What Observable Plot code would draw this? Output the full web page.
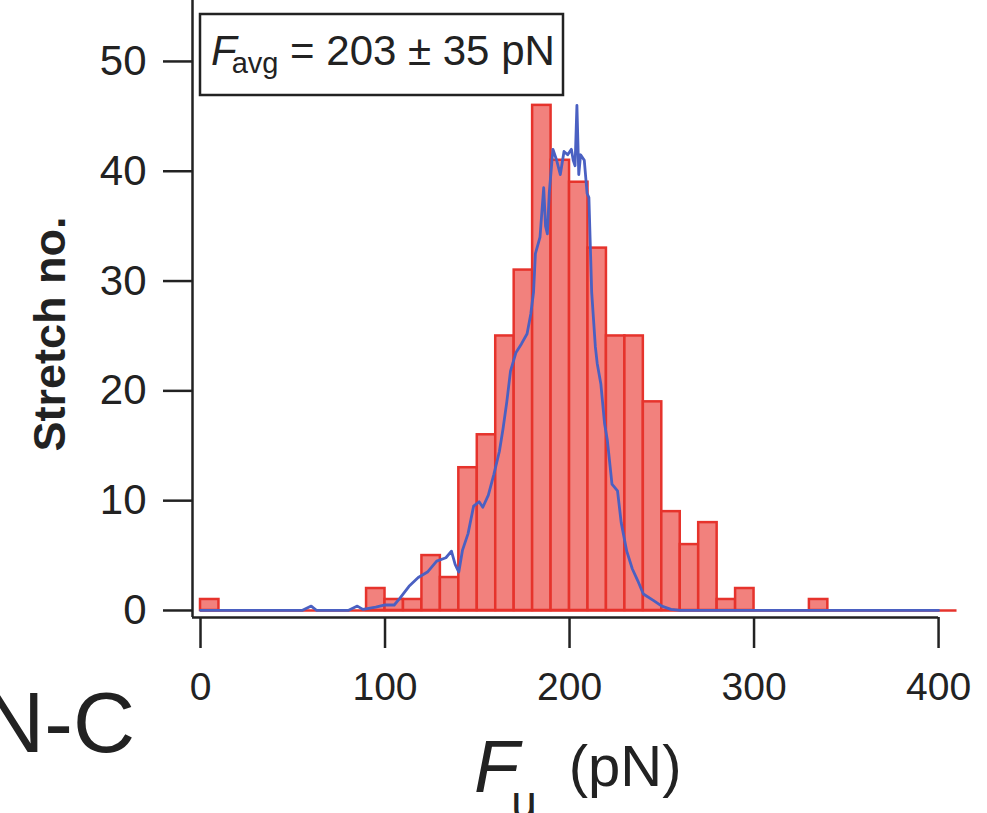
<!DOCTYPE html>
<html>
<head>
<meta charset="utf-8">
<script src="https://cdn.jsdelivr.net/npm/d3@7"></script>
<script src="https://cdn.jsdelivr.net/npm/@observablehq/plot@0.6"></script>
<style>
  html, body { margin: 0; padding: 0; background: #fff; }
  #chart svg { display: block; }
</style>
</head>
<body>
<div id="chart"></div>
<script>
// ---- data ----
const binWidth = 10;
const binStarts = [0,10,20,30,40,50,60,70,80,90,100,110,120,130,140,150,160,170,180,190,200,210,220,230,240,250,260,270,280,290,300,310,320,330,340,350,360,370,380,390,400];
const counts    = [1,0,0,0,0,0,0,0,0,2,1,1,5,3,13,16,25,31,46,41,39,33,25,25,19,9,6,8,1,2,0,0,0,1,0,0,0,0,0,0,0];

// blue trace
const curveF = [0,55,60,63,80,85,88,95,100,105,108,113,118,123,128,133,136,138,140,142,145,148,151,153,156,159,162,164,166,168,171,174,177,179,180.5,181.5,184,186,187,188,189,191,193,195,197,199,201,202,203,204,205,206,208,209.5,210.5,212,214,215,217,219,220.5,223,226,228,231,234,237,240,245.6,250,255,260,400];
const curveN = [0,0,0.4,0,0,0.4,0.1,0.3,0.5,0.5,1.1,2.2,3,3.5,4.5,4.8,5.4,4.2,3.5,5.5,7,9.5,9.9,9.4,10.5,12.4,14.5,16.6,19,21.8,23.5,24.3,25.2,27,29,32.5,34,38.5,35,34.3,38,42,41,39.7,41.8,41.5,42,41,40.5,46,39.7,41.5,41,38,37.6,29,24,22.5,20.6,17,15.5,11.5,10.9,8,5.4,3.8,2.7,1.5,0.9,0.4,0.1,0,0];

const xTicks = [0,100,200,300,400];
const yTicks = [0,10,20,30,40,50];
const xDomain = [-4.34, 414.6];
const yDomain = [-0.64, 55.55];

const bars = binStarts.map((b, i) => ({x1: b, x2: b + binWidth, n: counts[i]})).filter(d => d.n > 0);
const baseline = [{y: 0, x1: binStarts[0], x2: binStarts[binStarts.length - 1] + binWidth}];
const curve = curveF.map((f, i) => ({f, n: curveN[i]}));
const xAxisLine = [{y: yDomain[0], x1: xDomain[0], x2: xTicks[xTicks.length - 1]}];

const red = "#e6332c";
const pink = "#f2817d";
const blue = "#4a60c2";
const ink = "#222";
const ff = "'Liberation Sans', Arial, Helvetica, sans-serif";

const chart = Plot.plot({
  width: 987,
  height: 813,
  marginLeft: 192,
  marginRight: 22,
  marginTop: 0,
  marginBottom: 196,
  style: {fontFamily: ff, background: "#fff", color: ink},
  x: {domain: xDomain},
  y: {domain: yDomain},
  marks: [
    Plot.rectY(bars, {x1: "x1", x2: "x2", y: "n", fill: pink, stroke: red, strokeWidth: 2.5}),
    Plot.ruleY(baseline, {y: "y", x1: "x1", x2: "x2", stroke: red, strokeWidth: 2.5}),
    Plot.line(curve, {x: "f", y: "n", stroke: blue, strokeWidth: 2.8}),
    Plot.ruleX([xDomain[0]], {stroke: ink, strokeWidth: 2.5}),
    Plot.ruleY(xAxisLine, {y: "y", x1: "x1", x2: "x2", stroke: ink, strokeWidth: 2.5}),
    Plot.axisY(yTicks, {tickSize: 29, tickPadding: 17, fontSize: 42, label: null, strokeWidth: 2.5, stroke: ink}),
    Plot.axisX(xTicks, {tickSize: 31, tickPadding: 24, fontSize: 39, label: null, strokeWidth: 2.5, stroke: ink})
  ]
});

document.getElementById("chart").appendChild(chart);

const svg = d3.select(chart);

// legend box
svg.append("rect").attr("x", 200).attr("y", 14).attr("width", 363).attr("height", 81)
  .attr("fill", "#fff").attr("stroke", ink).attr("stroke-width", 2.5);
const lt = svg.append("text").attr("x", 211).attr("y", 65).attr("text-anchor", "start")
  .attr("font-family", ff).attr("font-size", 42).attr("fill", ink);
lt.append("tspan").attr("font-style", "italic").text("F");
lt.append("tspan").attr("font-size", 29).attr("dy", 8).attr("dx", -5).text("avg");
lt.append("tspan").attr("dy", -8).text(" = 203 ± 35 pN");

// y-axis title
svg.append("text").attr("transform", "translate(65,334) rotate(-90)").attr("text-anchor", "middle")
  .attr("font-family", ff).attr("font-weight", "bold").attr("font-size", 45).attr("fill", ink).text("Stretch no.");

// x-axis title
const xt = svg.append("text").attr("x", 474).attr("y", 792).attr("text-anchor", "start")
  .attr("font-family", ff).attr("fill", ink);
xt.append("tspan").attr("font-style", "italic").attr("font-size", 74).text("F");
xt.append("tspan").attr("font-size", 46).attr("dy", 26).attr("dx", -8).text("u");
xt.append("tspan").attr("font-size", 58).attr("dy", -32).attr("dx", 32).text("(pN)");

// panel label
svg.append("text").attr("x", 135).attr("y", 752).attr("text-anchor", "end")
  .attr("font-family", ff).attr("font-size", 86).attr("fill", ink).text("N-C");
</script>
</body>
</html>
